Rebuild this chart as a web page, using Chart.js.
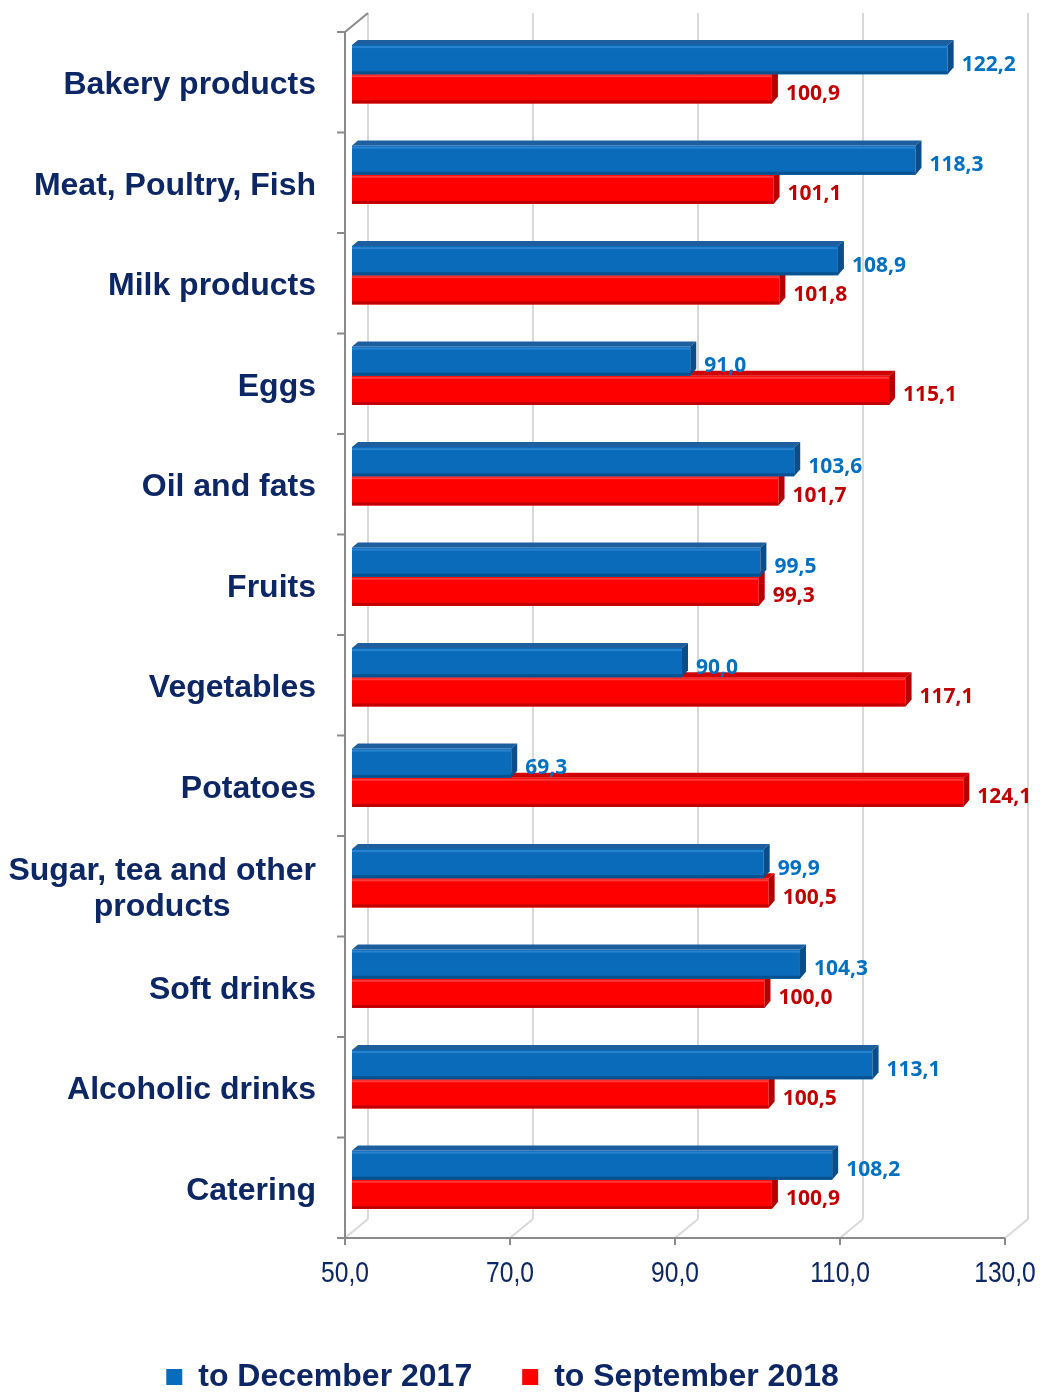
<!DOCTYPE html>
<html>
<head>
<meta charset="utf-8">
<title>Food price indices</title>
<script src="https://cdn.jsdelivr.net/npm/chart.js@4.4.1/dist/chart.umd.min.js"></script>
<style>
  html, body { margin: 0; padding: 0; background: #fff; }
  #wrap { width: 1040px; height: 1392px; position: relative; }
</style>
</head>
<body>
<div id="wrap"><canvas id="priceChart"></canvas></div>
<script>
// --- data ---
const CATEGORIES = [
    'Bakery products', 'Meat, Poultry, Fish', 'Milk products', 'Eggs', 'Oil and fats',
    'Fruits', 'Vegetables', 'Potatoes', ['Sugar, tea and other', 'products'],
    'Soft drinks', 'Alcoholic drinks', 'Catering'
];
const TO_DEC_2017 = [122.2, 118.3, 108.9, 91.0, 103.6, 99.5, 90.0, 69.3, 99.9, 104.3, 113.1, 108.2];
const TO_SEP_2018 = [100.9, 101.1, 101.8, 115.1, 101.7, 99.3, 117.1, 124.1, 100.5, 100.0, 100.5, 100.9];
const SERIES_LABELS = ['to December 2017', 'to September 2018'];
const X_TICKS = [50, 70, 90, 110, 130];

// --- look ---
const NAVY = '#0d2765';
const AXIS_GRAY = '#8a8a8a';
const GRID_GRAY = '#d9d9d9';
const WALL = { x: 23, y: -19 };       // depth of the back wall
const BAR_SHIFT = { x: 7, y: -8 };    // bars sit a bit into the box
const BAR_DEPTH = { x: 6, y: -5 };    // thickness of each bar
const SKIN = [
    { front: '#0a6bbb', top: '#1d5e9e', cap: '#0a4d88', dark: '#07518f', light: '#2a83cf', text: '#0070c0' },
    { front: '#ff0000', top: '#d00000', cap: '#b50000', dark: '#c00000', light: '#ff3a3a', text: '#c00000' }
];

const fmt = v => v.toFixed(1).replace('.', ',');

function line(ctx, x1, y1, x2, y2) {
    ctx.beginPath();
    ctx.moveTo(x1, y1);
    ctx.lineTo(x2, y2);
    ctx.stroke();
}

function poly(ctx, pts, color) {
    ctx.beginPath();
    ctx.moveTo(pts[0][0], pts[0][1]);
    for (let i = 1; i < pts.length; i++) ctx.lineTo(pts[i][0], pts[i][1]);
    ctx.closePath();
    ctx.fillStyle = color;
    ctx.fill();
}

// box frame, axis labels, 3d bar faces and value labels
const box3d = {
    id: 'box3d',
    beforeDatasetsDraw(chart) {
        const { ctx, chartArea: a, scales: { x: xs, y: ys } } = chart;
        ctx.save();
        ctx.lineWidth = 2;
        // back wall grid + floor diagonals
        ctx.strokeStyle = GRID_GRAY;
        X_TICKS.forEach(v => {
            const px = xs.getPixelForValue(v);
            line(ctx, px + WALL.x, a.top + WALL.y, px + WALL.x, a.bottom + WALL.y);
            line(ctx, px, a.bottom, px + WALL.x, a.bottom + WALL.y);
        });
        // front axes
        ctx.strokeStyle = AXIS_GRAY;
        line(ctx, a.left, a.top, a.left, a.bottom);
        line(ctx, a.left, a.top, a.left + WALL.x, a.top + WALL.y);
        line(ctx, a.left, a.bottom, a.right, a.bottom);
        for (let i = 0; i <= CATEGORIES.length; i++) {
            const py = ys.getPixelForValue(i - 0.5);
            line(ctx, a.left - 8, py, a.left, py);
        }
        X_TICKS.forEach(v => {
            const px = xs.getPixelForValue(v);
            line(ctx, px, a.bottom, px, a.bottom + 7);
        });
        ctx.restore();

        // value axis labels in a condensed face
        ctx.save();
        ctx.font = '30px "Liberation Sans", Arial, sans-serif';
        ctx.fillStyle = NAVY;
        ctx.textAlign = 'center';
        ctx.textBaseline = 'middle';
        X_TICKS.forEach(v => {
            const px = xs.getPixelForValue(v);
            ctx.save();
            ctx.translate(px, a.bottom + 36);
            ctx.scale(0.82, 1);
            ctx.fillText(fmt(v), 0, 0);
            ctx.restore();
        });
        ctx.restore();

        // category labels, lines centred inside a right-aligned block
        ctx.save();
        ctx.font = 'bold 32px "Liberation Sans", Arial, sans-serif';
        ctx.fillStyle = NAVY;
        ctx.textAlign = 'center';
        ctx.textBaseline = 'middle';
        CATEGORIES.forEach((c, i) => {
            const lines = Array.isArray(c) ? c : [c];
            const w = Math.max(...lines.map(t => ctx.measureText(t).width));
            const cx = a.left - 29 - w / 2;
            const cy = ys.getPixelForValue(i);
            lines.forEach((t, j) => {
                ctx.fillText(t, cx, cy + (j - (lines.length - 1) / 2) * 36 + 3);
            });
        });
        ctx.restore();

        ctx.save();
        ctx.translate(BAR_SHIFT.x, BAR_SHIFT.y);
    },
    afterDatasetDraw(chart, args) {
        const { ctx } = chart;
        const s = SKIN[args.index];
        args.meta.data.forEach(el => {
            const l = el.base, r = el.x;
            const t = el.y - el.height / 2, b = el.y + el.height / 2;
            // bevel on the front face
            ctx.fillStyle = s.light;
            ctx.fillRect(l, t + 1, r - l, 2);
            ctx.fillStyle = s.dark;
            ctx.fillRect(l, b - 3, r - l, 3);
            // top face
            poly(ctx, [[l, t], [l + BAR_DEPTH.x, t + BAR_DEPTH.y], [r + BAR_DEPTH.x, t + BAR_DEPTH.y], [r, t]], s.top);
            // end cap
            poly(ctx, [[r, t], [r + BAR_DEPTH.x, t + BAR_DEPTH.y], [r + BAR_DEPTH.x, b + BAR_DEPTH.y - 2], [r, b]], s.cap);
        });
    },
    afterDatasetsDraw(chart) {
        const { ctx } = chart;
        ctx.restore();
        ctx.save();
        ctx.font = 'bold 21px "Open Sans", Carlito, sans-serif';
        ctx.textAlign = 'left';
        ctx.textBaseline = 'middle';
        chart.data.datasets.forEach((ds, di) => {
            const meta = chart.getDatasetMeta(di);
            ctx.fillStyle = SKIN[di].text;
            meta.data.forEach((el, i) => {
                const x = el.x + BAR_SHIFT.x + BAR_DEPTH.x + 8;
                const y = el.y + BAR_SHIFT.y + 5;
                ctx.fillText(fmt(ds.data[i]), x, y);
            });
        });
        ctx.restore();
    }
};

const canvas = document.getElementById('priceChart');
new Chart(canvas.getContext('2d'), {
    type: 'bar',
    data: {
        labels: CATEGORIES,
        datasets: [
            { label: SERIES_LABELS[0], data: TO_DEC_2017, backgroundColor: SKIN[0].front },
            { label: SERIES_LABELS[1], data: TO_SEP_2018, backgroundColor: SKIN[1].front }
        ]
    },
    options: {
        indexAxis: 'y',
        responsive: true,
        maintainAspectRatio: false,
        animation: false,
        events: [],
        layout: { padding: { top: 32, right: 35, bottom: -11, left: 0 } },
        datasets: {
            bar: {
                base: X_TICKS[0],
                categoryPercentage: 0.58,
                barPercentage: 1,
                borderWidth: 0,
                clip: false
            }
        },
        scales: {
            x: {
                type: 'linear',
                position: 'bottom',
                min: X_TICKS[0],
                max: X_TICKS[X_TICKS.length - 1],
                grid: { display: false, drawTicks: false },
                border: { display: false },
                ticks: { display: false, stepSize: X_TICKS[1] - X_TICKS[0] },
                afterFit: scale => { scale.height = 73; }
            },
            y: {
                grid: { display: false },
                border: { display: false },
                ticks: { display: false },
                afterFit: scale => { scale.width = 345; }
            }
        },
        plugins: {
            tooltip: { enabled: false },
            legend: {
                position: 'bottom',
                labels: {
                    boxWidth: 16,
                    boxHeight: 16,
                    padding: 50,
                    color: NAVY,
                    font: { family: '"Liberation Sans", Arial, sans-serif', size: 32, weight: 'bold' }
                }
            }
        }
    },
    plugins: [box3d]
});
</script>
</body>
</html>
